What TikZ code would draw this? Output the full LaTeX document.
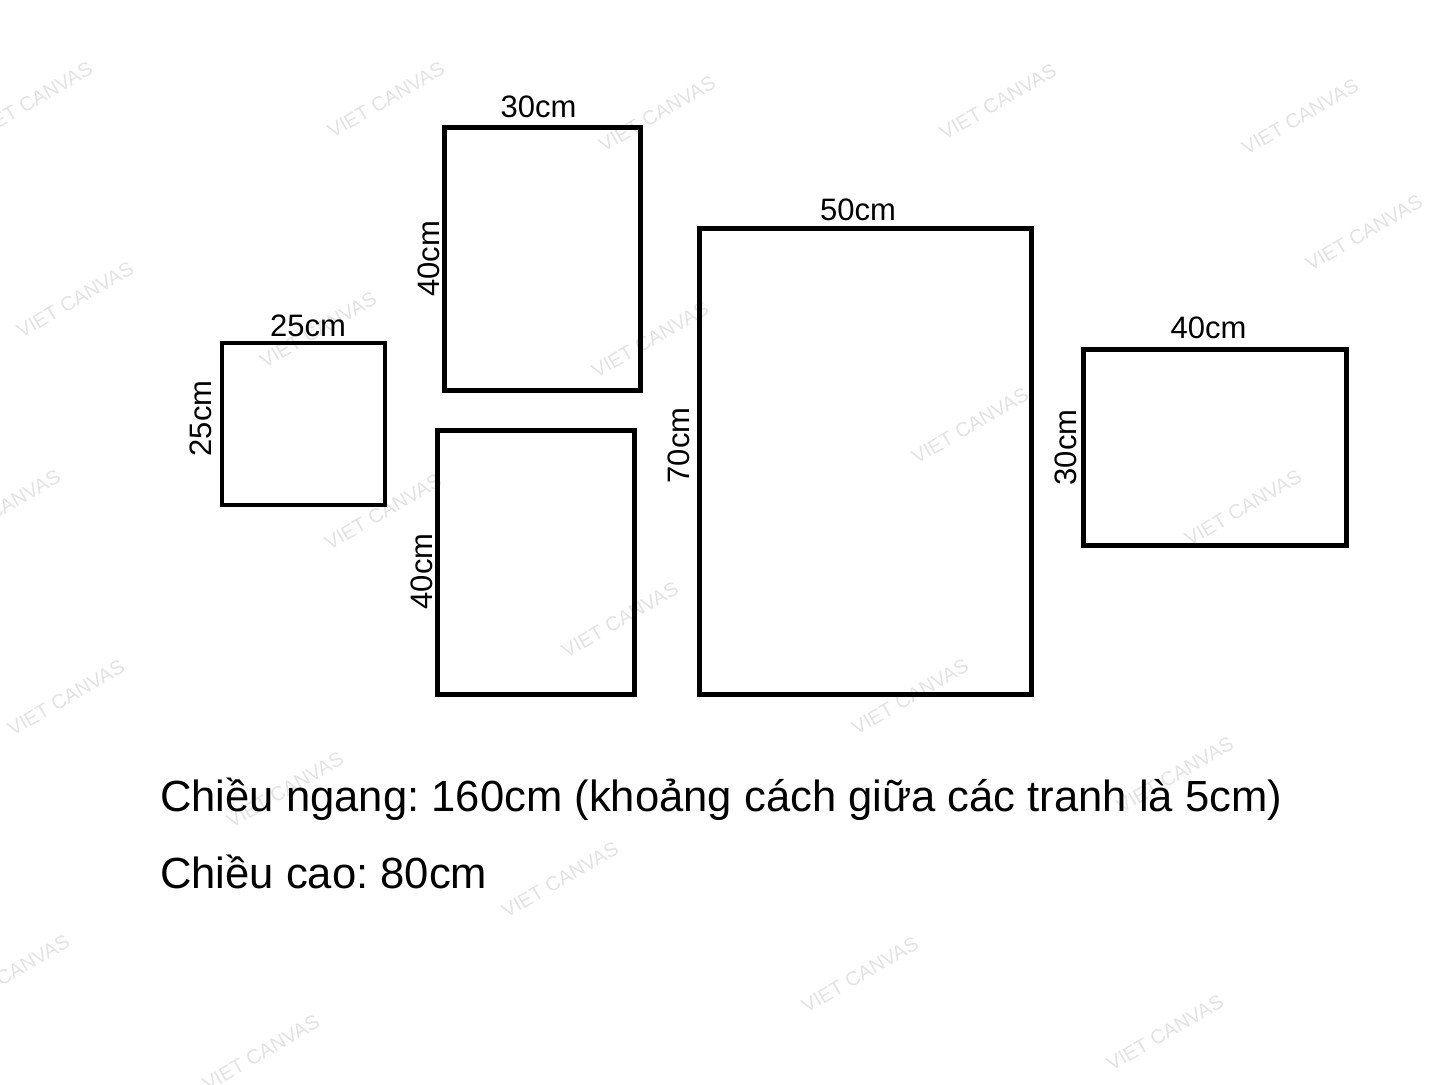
\documentclass[tikz,border=0pt]{standalone}
\usepackage{fontspec}
\setmainfont{Liberation Sans}
\usetikzlibrary{positioning}
\frenchspacing

\tikzset{
    frame/.style={draw=black, line width=4.7pt, inner sep=0pt},
    dim/.style={inner sep=0pt, font=\fontsize{31}{37}\selectfont},
    note/.style={inner sep=0pt, font=\fontsize{43.6}{52}\selectfont},
    wmark/.style={inner sep=0pt, text=black!11, rotate=30, font=\fontsize{20}{24}\selectfont}
}

\begin{document}
\begin{tikzpicture}[x=1pt, y=-1pt]
                \useasboundingbox (0,0) rectangle (1445,1084);

                \foreach \wx/\wy in {34/100, 386/100, 657/114, 998/102, 1300/117, 1364/233,
                                     75/300, 318/330, 650/340, 970/426, 2/508, 383/512,
                                     1243/508, 620/620, 66/698, 910/697, 285/790, 1175/775,
                                     560/880, 11/973, 860/975, 261/1053, 1165/1033}
                    \node[wmark] at (\wx,\wy) {VIET CANVAS};

                \node[frame, minimum width=163pt, minimum height=162pt] (sq) at (303.5,424) {};
                \node[frame, minimum width=196pt, minimum height=263pt] (ptop) at (542.5,259) {};
                \node[frame, minimum width=197pt, minimum height=264pt] (pbot) at (536,562.5) {};
                \node[frame, minimum width=332pt, minimum height=466pt] (big) at (865.5,461.5) {};
                \node[frame, minimum width=263pt, minimum height=196pt] (wide) at (1215,447.5) {};

                \node[dim, above=4pt of sq, xshift=4.5pt] (sqw) {25cm};
                \node[dim, above=7pt of ptop, xshift=-4pt] (ptopw) {30cm};
                \node[dim, above=5pt of big, xshift=-7.5pt] (bigw) {50cm};
                \node[dim, above=8pt of wide, xshift=-6.5pt] (widew) {40cm};

                \node[dim, rotate=90, anchor=south] (sqh) at ([xshift=-8pt, yshift=5.5pt]sq.west) {25cm};
                \node[dim, rotate=90, anchor=south] (ptoph) at ([xshift=-2pt]ptop.west) {40cm};
                \node[dim, rotate=90, anchor=south] (pboth) at ([xshift=-2pt, yshift=-9pt]pbot.west) {40cm};
                \node[dim, rotate=90, anchor=south] (bigh) at ([xshift=-7pt, yshift=16pt]big.west) {70cm};
                \node[dim, rotate=90, anchor=south] (wideh) at ([xshift=-4pt]wide.west) {30cm};

                \node[note, anchor=base west] (total) at (160,811) {Chiều ngang: 160cm (khoảng cách giữa các tranh là 5cm)};
                \node[note, anchor=base west] (height) at (160,888) {Chiều cao: 80cm};
\end{tikzpicture}
\end{document}
